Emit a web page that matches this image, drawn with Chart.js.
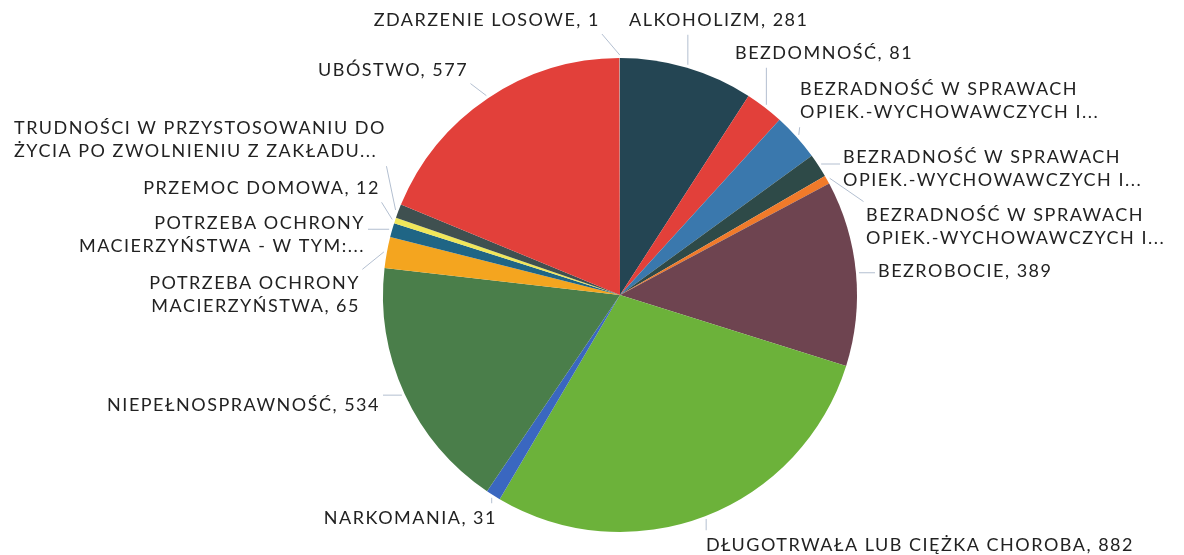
<!DOCTYPE html>
<html>
<head>
<meta charset="utf-8">
<script src="https://cdn.jsdelivr.net/npm/chart.js@4.4.1/dist/chart.umd.min.js"></script>
<style>
html,body{margin:0;padding:0;background:#fff;}
#wrap{width:1184px;height:555px;position:relative;}
</style>
</head>
<body>
<div id="wrap"><canvas id="c" width="1184" height="555"></canvas></div>
<script>
// ---- data ----
const categories = [
  'ALKOHOLIZM',
  'BEZDOMNOŚĆ',
  'BEZRADNOŚĆ W SPRAWACH\nOPIEK.-WYCHOWAWCZYCH I...',
  'BEZRADNOŚĆ W SPRAWACH\nOPIEK.-WYCHOWAWCZYCH I...',
  'BEZRADNOŚĆ W SPRAWACH\nOPIEK.-WYCHOWAWCZYCH I...',
  'BEZROBOCIE',
  'DŁUGOTRWAŁA LUB CIĘŻKA CHOROBA',
  'NARKOMANIA',
  'NIEPEŁNOSPRAWNOŚĆ',
  'POTRZEBA OCHRONY\nMACIERZYŃSTWA',
  'POTRZEBA OCHRONY\nMACIERZYŃSTWA - W TYM:...',
  'PRZEMOC DOMOWA',
  'TRUDNOŚCI W PRZYSTOSOWANIU DO\nŻYCIA PO ZWOLNIENIU Z ZAKŁADU...',
  'UBÓSTWO',
  'ZDARZENIE LOSOWE'
];
const values = [281, 81, 100, 50, 18, 389, 882, 31, 534, 65, 30, 12, 29, 577, 1];
const colors = ['#244553','#e2403a','#3a78ad','#2e4a48','#f07a2a','#6e4450','#6cb23a','#3a67c0',
                '#4a7e4a','#f4a51f','#1f6585','#f0e65a','#3f5050','#e2403a','#9aa0a0'];

// label placement (x edge, first-line centre y, alignment)
const labelLayout = [
  {x:629, y:20, a:'left'},
  {x:735, y:53, a:'left'},
  {x:800, y:89, a:'left'},
  {x:843, y:157, a:'left'},
  {x:866, y:215, a:'left'},
  {x:878, y:271, a:'left'},
  {x:706, y:545, a:'left'},
  {x:497, y:518, a:'right'},
  {x:380, y:405, a:'right'},
  {x:360, y:283, a:'right'},
  {x:365, y:223, a:'right'},
  {x:380, y:188, a:'right'},
  {x:14,  y:128, a:'left'},
  {x:318, y:70,  a:'left'},
  {x:600, y:20,  a:'right'}
];
const FONT = '18px Lato';
const SPACING = '1.5px';
const LINE_H = 23.5;

const labelPlugin = {
  id: 'outLabels',
  afterDraw(chart) {
    const ctx = chart.ctx;
    const meta = chart.getDatasetMeta(0);
    ctx.save();
    ctx.font = FONT;
    if ('letterSpacing' in ctx) ctx.letterSpacing = SPACING;
    ctx.textBaseline = 'middle';
    meta.data.forEach((arc, i) => {
      const p = arc.getProps(['x','y','startAngle','endAngle','outerRadius'], true);
      const mid = (p.startAngle + p.endAngle) / 2;
      const px = p.x + Math.cos(mid) * (p.outerRadius + 3);
      const py = p.y + Math.sin(mid) * (p.outerRadius + 3);
      let text = categories[i];
      if (!text.endsWith('...')) text += ', ' + values[i];
      const lines = text.split('\n');
      const L = labelLayout[i];
      const w = Math.max(...lines.map(s => ctx.measureText(s).width));
      const left = L.a === 'left' ? L.x : L.x - w;
      const top = L.y - LINE_H / 2;
      const bottom = L.y + LINE_H * (lines.length - 0.5);
      const bx = Math.min(Math.max(px, left), left + w);
      const by = Math.min(Math.max(py, top), bottom);
      const d = Math.hypot(px - bx, py - by);
      if (d > 8) {
        ctx.strokeStyle = '#b3bfd0';
        ctx.lineWidth = 1;
        ctx.beginPath();
        ctx.moveTo(px, py);
        ctx.lineTo(bx + (px - bx) / d * 3, by + (py - by) / d * 3);
        ctx.stroke();
      }
      ctx.fillStyle = '#222';
      ctx.textAlign = L.a;
      lines.forEach((s, k) => ctx.fillText(s, L.x, L.y + k * LINE_H));
    });
    ctx.restore();
  }
};

new Chart(document.getElementById('c'), {
  type: 'pie',
  data: {
    labels: categories,
    datasets: [{ data: values, backgroundColor: colors, borderWidth: 0 }]
  },
  options: {
    responsive: false,
    animation: false,
    layout: { padding: { top: 58, bottom: 23, left: 383, right: 327 } },
    plugins: { legend: { display: false }, tooltip: { enabled: false } }
  },
  plugins: [labelPlugin]
});
</script>
</body>
</html>
